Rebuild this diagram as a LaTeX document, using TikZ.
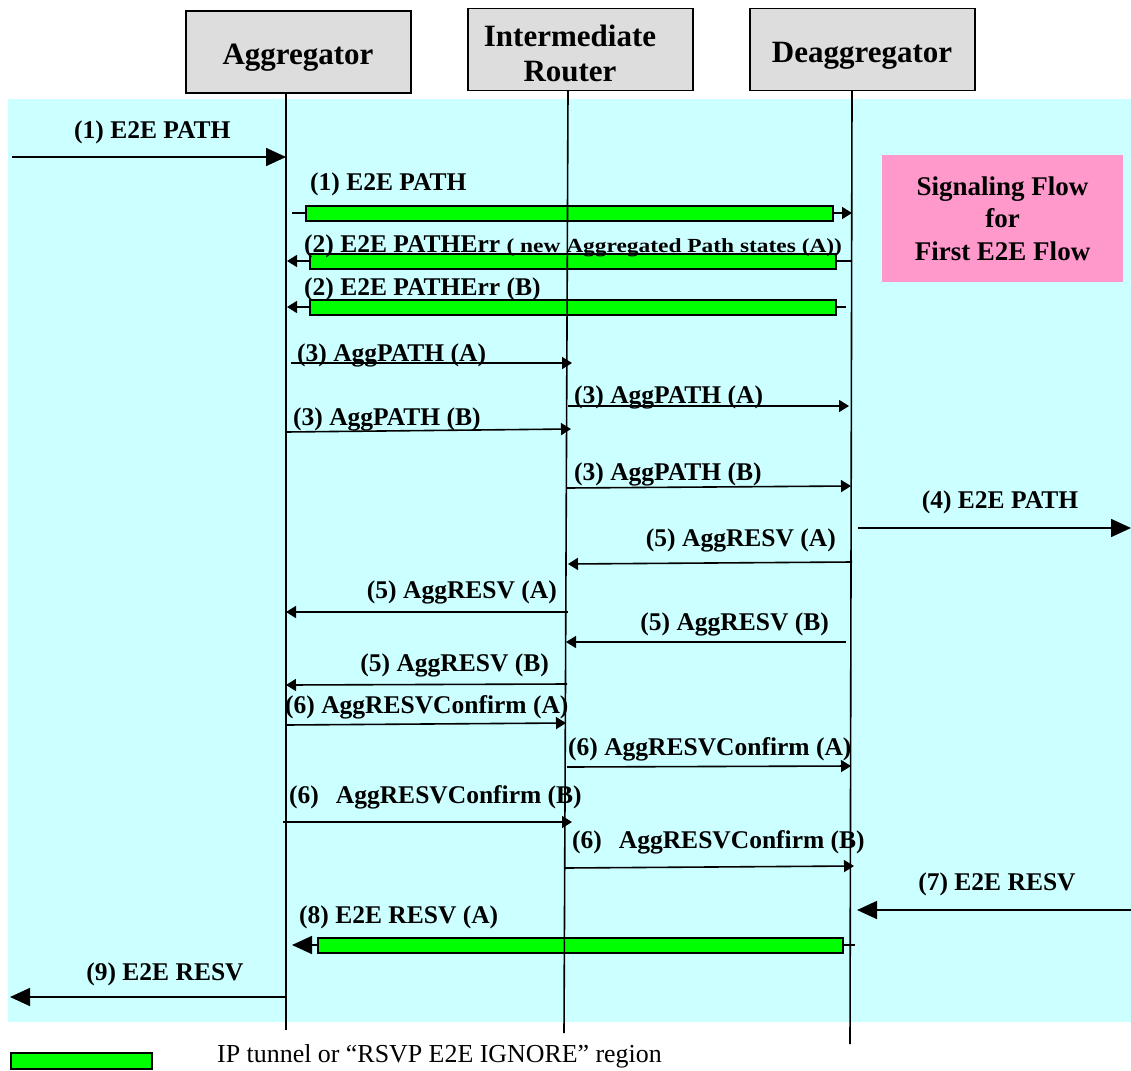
\documentclass[tikz,border=0pt]{standalone}
\usepackage{fontspec}
\setmainfont{Liberation Serif}
\usetikzlibrary{arrows.meta}
\definecolor{bgcyan}{HTML}{CCFFFF}
\definecolor{boxgray}{HTML}{DDDDDD}
\definecolor{tunnelgreen}{HTML}{00FF00}
\definecolor{notepink}{HTML}{FF99CC}

\begin{document}
\begin{tikzpicture}[x=1pt,y=-1pt,
  entity/.style={draw=black, line width=1.6pt, fill=boxgray, minimum width=225pt, minimum height=82pt, inner sep=0pt},
  title/.style={font=\fontsize{31}{35}\selectfont\bfseries, align=center, inner sep=0pt},
  life/.style={line width=1.6pt},
  msg/.style={line width=1.6pt, -{Triangle[length=10pt,width=12pt]}},
  bigmsg/.style={line width=1.6pt, -{Triangle[length=20pt,width=18pt]}},
  tunnel/.style={draw=black, line width=1.4pt, fill=tunnelgreen, inner sep=0pt, minimum height=15pt},
  lbl/.style={font=\fontsize{25.5}{28}\selectfont\bfseries, inner sep=0pt},
  note/.style={fill=notepink, minimum width=241pt, minimum height=127pt, align=center,
    font=\fontsize{27}{32.5}\selectfont\bfseries, inner sep=0pt},
]
\useasboundingbox (0,0) rectangle (1131,1070);

% signalling region
\fill[bgcyan] (8,99) rectangle (1131,1022);

% side note
\node[note] (flownote) at (1002.5,218.5) {Signaling Flow\\for\\First E2E Flow};

% tunnelled messages (arrow line under the green bar)
\coordinate (t1s) at (292,213);  \coordinate (t1e) at (852,213);
\draw[msg] (t1s) -- (t1e);
\node[tunnel, minimum width=527pt] (t1bar) at (569.5,213.5) {};

\coordinate (t2s) at (852,261);  \coordinate (t2e) at (287,261);
\draw[msg] (t2s) -- (t2e);
\node[tunnel, minimum width=526pt] (t2bar) at (573,261.5) {};

\coordinate (t3s) at (846,307);  \coordinate (t3e) at (287,307);
\draw[msg] (t3s) -- (t3e);
\node[tunnel, minimum width=526pt] (t3bar) at (573,307.5) {};

\coordinate (t8s) at (855,945);  \coordinate (t8e) at (292,945);
\draw[bigmsg] (t8s) -- (t8e);
\node[tunnel, minimum width=525pt] (t8bar) at (580.5,945.5) {};

% entities and lifelines
\node[entity] (aggbox) at (298.5,52) {};
\node[entity] (rtrbox) at (580.5,49.5) {};
\node[entity] (deabox) at (862.5,49.5) {};
\node[title] (aggname) at (298,58) {Aggregator};
\node[title] (rtrname) at (570,53) {Intermediate\\Router};
\node[title] (deaname) at (862,56) {Deaggregator};

\coordinate (aggEnd) at (286,1030);
\coordinate (rtrEnd) at (564,1033);
\coordinate (deaEnd) at (850,1044);
\draw[life] (aggbox.south -| aggEnd) -- (aggEnd);
\draw[life] (568,90.8) coordinate (rtrTop) -- (rtrEnd);
\draw[life] (852,90.8) coordinate (deaTop) -- (deaEnd);

% plain messages
\coordinate (m1s) at (12,157);    \coordinate (m1e) at (286,157);
\draw[bigmsg] (m1s) -- (m1e);

\coordinate (m3a1s) at (291,363); \coordinate (m3a1e) at (572,363);
\draw[msg] (m3a1s) -- (m3a1e);
\coordinate (m3a2s) at (568,406); \coordinate (m3a2e) at (849,406);
\draw[msg] (m3a2s) -- (m3a2e);
\coordinate (m3b1s) at (286,432); \coordinate (m3b1e) at (571,429);
\draw[msg] (m3b1s) -- (m3b1e);
\coordinate (m3b2s) at (567,488); \coordinate (m3b2e) at (851,486);
\draw[msg] (m3b2s) -- (m3b2e);

\coordinate (m4s) at (858,528);   \coordinate (m4e) at (1131,528);
\draw[bigmsg] (m4s) -- (m4e);

\coordinate (m5a1s) at (852,562); \coordinate (m5a1e) at (568,564);
\draw[msg] (m5a1s) -- (m5a1e);
\coordinate (m5a2s) at (568,612); \coordinate (m5a2e) at (286,612);
\draw[msg] (m5a2s) -- (m5a2e);
\coordinate (m5b1s) at (846,642); \coordinate (m5b1e) at (566,642);
\draw[msg] (m5b1s) -- (m5b1e);
\coordinate (m5b2s) at (567,684); \coordinate (m5b2e) at (286,685);
\draw[msg] (m5b2s) -- (m5b2e);

\coordinate (m6a1s) at (286,725); \coordinate (m6a1e) at (566,723);
\draw[msg] (m6a1s) -- (m6a1e);
\coordinate (m6a2s) at (567,767); \coordinate (m6a2e) at (851,766);
\draw[msg] (m6a2s) -- (m6a2e);
\coordinate (m6b1s) at (283,822); \coordinate (m6b1e) at (572,822);
\draw[msg] (m6b1s) -- (m6b1e);
\coordinate (m6b2s) at (565,868); \coordinate (m6b2e) at (854,866);
\draw[msg] (m6b2s) -- (m6b2e);

\coordinate (m7s) at (1131,910);  \coordinate (m7e) at (857,910);
\draw[bigmsg] (m7s) -- (m7e);

\coordinate (m9s) at (286,997);   \coordinate (m9e) at (10,997);
\draw[bigmsg] (m9s) -- (m9e);

% message labels
\node[lbl, anchor=west] (l1) at (74,132) {(1) E2E PATH};
\node[lbl, anchor=west] (lt1) at (310,184) {(1) E2E PATH};
\node[lbl, anchor=base west] (lt2) at (304,252) {(2) E2E PATHErr \scalebox{1.17}[1]{\fontsize{20}{22}\selectfont ( new Aggregated Path states (A))}};
\node[lbl, anchor=west] (lt3) at (304,289) {(2) E2E PATHErr (B)};
\node[lbl, anchor=west] (l3a1) at (297,355) {(3) AggPATH (A)};
\node[lbl, anchor=west] (l3a2) at (574,397) {(3) AggPATH (A)};
\node[lbl, anchor=west] (l3b1) at (293,419) {(3) AggPATH (B)};
\node[lbl, anchor=west] (l3b2) at (574,474) {(3) AggPATH (B)};
\node[lbl] (l4) at (1000,502) {(4) E2E PATH};
\node[lbl, anchor=east] (l5a1) at (836,540) {(5) AggRESV (A)};
\node[lbl, anchor=east] (l5a2) at (557,592) {(5) AggRESV (A)};
\node[lbl, anchor=east] (l5b1) at (829,624) {(5) AggRESV (B)};
\node[lbl, anchor=east] (l5b2) at (549,665) {(5) AggRESV (B)};
\node[lbl, anchor=west] (l6a1) at (285,707) {(6) AggRESVConfirm (A)};
\node[lbl, anchor=west] (l6a2) at (568,749) {(6) AggRESVConfirm (A)};
\node[lbl, anchor=west] (l6b1) at (289,797) {(6)\hspace{17pt}AggRESVConfirm (B)};
\node[lbl, anchor=west] (l6b2) at (572,842) {(6)\hspace{17pt}AggRESVConfirm (B)};
\node[lbl] (l7) at (997,884) {(7) E2E RESV};
\node[lbl, anchor=west] (lt8) at (299,917) {(8) E2E RESV (A)};
\node[lbl] (l9) at (165,974) {(9) E2E RESV};

% legend
\node[tunnel, minimum width=141pt, minimum height=16pt] (legbar) at (81.5,1061) {};
\node[anchor=west, inner sep=0pt, font=\fontsize{25.9}{28}\selectfont] (legtext) at (217,1056)
  {IP tunnel or “RSVP E2E IGNORE” region};
\end{tikzpicture}
\end{document}
